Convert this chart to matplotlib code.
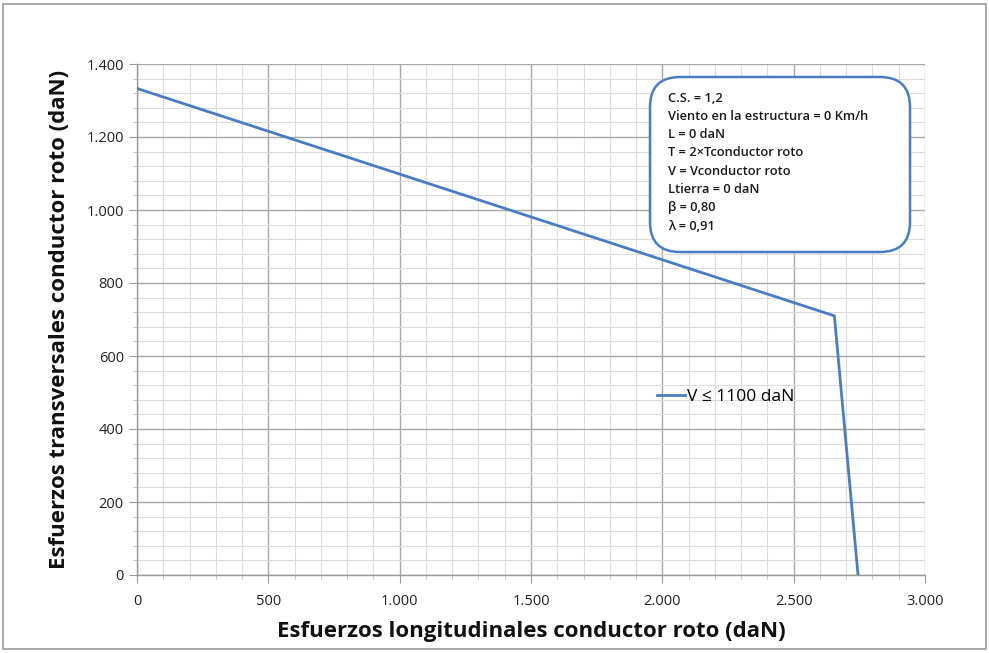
import matplotlib
matplotlib.use("Agg")
import matplotlib.pyplot as plt
from matplotlib.ticker import MultipleLocator, FuncFormatter
from matplotlib.patches import FancyBboxPatch, Rectangle
from matplotlib.transforms import IdentityTransform

# Interaction curve for the broken-conductor load case
long_load = [0, 2655, 2745]
trans_load = [1333, 710, 0]
series_label = "V \u2264 1100 daN"

x_label = "Esfuerzos longitudinales conductor roto (daN)"
y_label = "Esfuerzos transversales conductor roto (daN)"

notes = [
    "C.S. = 1,2",
    "Viento en la estructura = 0 Km/h",
    "L = 0 daN",
    "T = 2\u00d7Tconductor roto",
    "V = Vconductor roto",
    "Ltierra = 0 daN",
    "\u03b2 = 0,80",
    "\u03bb = 0,91",
]

plt.rcParams["font.family"] = ["Open Sans", "DejaVu Sans"]

W, H = 989, 653
fig = plt.figure(figsize=(W / 100, H / 100), dpi=100)
fig.patch.set_facecolor("white")

# outer frame around the whole chart
fig.patches.append(Rectangle((3 / W, 4 / H), (W - 6) / W, (H - 8) / H,
                             transform=fig.transFigure, fill=False,
                             edgecolor="#9a9a9a", linewidth=1.2))

ax = fig.add_axes([137 / W, 1 - 575 / H, (925 - 137) / W, (575 - 64) / H])

line_color = "#4a7cc4"
ax.plot(long_load, trans_load, color=line_color, linewidth=2.0, label=series_label,
        solid_joinstyle="miter", zorder=3)

ax.set_xlim(0, 3000)
ax.set_ylim(0, 1400)
ax.xaxis.set_major_locator(MultipleLocator(500))
ax.xaxis.set_minor_locator(MultipleLocator(100))
ax.yaxis.set_major_locator(MultipleLocator(200))
ax.yaxis.set_minor_locator(MultipleLocator(40))


def thousands(v, pos):
    return f"{int(round(v)):,}".replace(",", ".")


ax.xaxis.set_major_formatter(FuncFormatter(thousands))
ax.yaxis.set_major_formatter(FuncFormatter(thousands))

ax.grid(which="major", color="#a8a8a8", linewidth=1.0)
ax.grid(which="minor", color="#dcdcdc", linewidth=0.8)
ax.set_axisbelow(True)

for side in ("top", "right"):
    ax.spines[side].set_visible(False)
for side in ("left", "bottom"):
    ax.spines[side].set_color("#9a9a9a")
    ax.spines[side].set_linewidth(1.0)

ax.tick_params(which="major", length=6, color="#9a9a9a", labelsize=10.5,
               labelcolor="#222222")
ax.tick_params(which="minor", length=3, color="#bdbdbd")
ax.tick_params(axis="x", pad=8)

ax.set_xlabel(x_label, fontsize=16, fontweight="bold", labelpad=8, color="#111111")
ax.set_ylabel(y_label, fontsize=16, fontweight="bold", labelpad=12, color="#111111")

leg = ax.legend(loc="center left", bbox_to_anchor=(0.64, 0.348), frameon=False,
                fontsize=12.5, handlelength=1.6, handletextpad=0.15)

# annotation box with the load hypotheses (drawn in pixel units for round corners)
box = FancyBboxPatch((650, H - 252), 910 - 650, 252 - 77,
                     boxstyle="round,pad=0,rounding_size=30",
                     transform=IdentityTransform(), facecolor="white",
                     edgecolor=line_color, linewidth=1.8, zorder=5)
fig.patches.append(box)
for i, txt in enumerate(notes):
    fig.text(668 / W, 1 - (98 + i * 18.3) / H, txt, fontsize=9.3,
             fontweight="semibold", color="#1a1a1a", va="center", ha="left",
             zorder=6)

fig.savefig("out.png", dpi=100)
